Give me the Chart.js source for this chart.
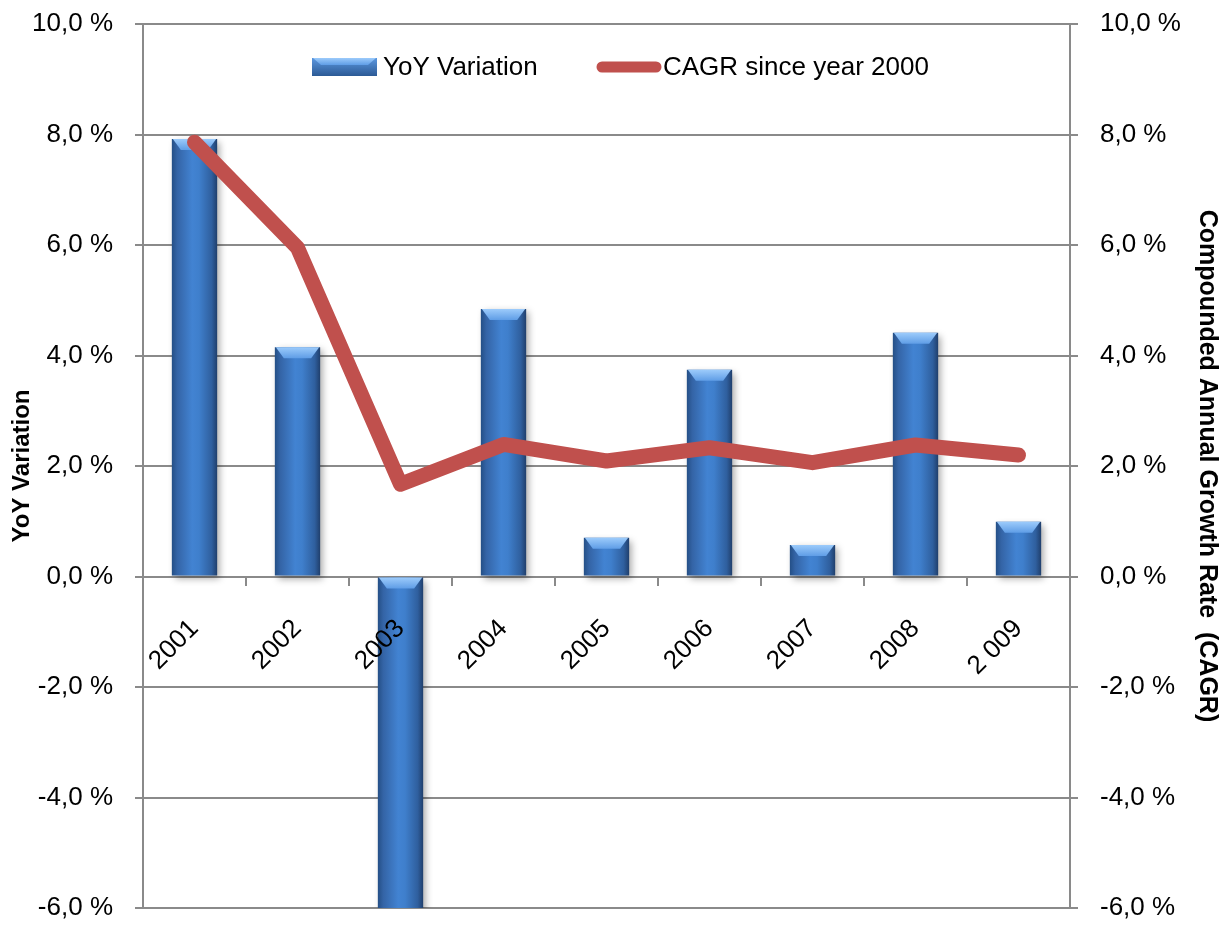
<!DOCTYPE html>
<html><head><meta charset="utf-8">
<script src="https://cdn.jsdelivr.net/npm/chart.js@4"></script>
<style>html,body{margin:0;padding:0;background:#fff}</style>
</head><body>
<canvas id="c" width="1225" height="926"></canvas>
<script>
// ---- data ----
const categories = ['2001', '2002', '2003', '2004', '2005', '2006', '2007', '2008', '2 009'];
const yoyVariation = [7.92, 4.15, -6.4, 4.84, 0.70, 3.74, 0.57, 4.41, 0.99];
const cagrSince2000 = [7.86, 5.95, 1.67, 2.39, 2.09, 2.33, 2.06, 2.38, 2.20];
const axisTicks = [-6, -4, -2, 0, 2, 4, 6, 8, 10];
const seriesLabels = ['YoY Variation', 'CAGR since year 2000'];
const axisTitles = ['YoY Variation', 'Compounded Annual Growth Rate  (CAGR)'];

// ---- style ----
const FONT = "'Liberation Sans', Arial, sans-serif";
const GRID = '#8a8a8a';
const RED = '#C0504D';
const BAR_PCT = 0.44;

const fmt = v => Number(v).toFixed(1).replace('.', ',') + ' %';

function barGradient(c, l, r) {
  const g = c.createLinearGradient(l, 0, r, 0);
  g.addColorStop(0, '#244f86');
  g.addColorStop(0.12, '#3464a6');
  g.addColorStop(0.45, '#4283d2');
  g.addColorStop(0.6, '#3f7fcc');
  g.addColorStop(0.88, '#2f5f9e');
  g.addColorStop(1, '#203f6c');
  return g;
}
function drawBevel(c, l, r, top, maxH) {
  const h = Math.min(11, maxH);
  const inset = Math.min(9, (r - l) / 4);
  const g = c.createLinearGradient(0, top, 0, top + h);
  g.addColorStop(0, '#9ccbfb');
  g.addColorStop(1, '#5f9de6');
  c.beginPath();
  c.moveTo(l + 1, top);
  c.lineTo(r - 1, top);
  c.lineTo(r - inset, top + h);
  c.lineTo(l + inset, top + h);
  c.closePath();
  c.fillStyle = g;
  c.fill();
}

function barFill(ctx) {
  const chart = ctx.chart;
  const xs = chart.scales && chart.scales.x;
  if (!xs || ctx.dataIndex === undefined || !xs.width) return '#4F81BD';
  const cx = xs.getPixelForValue(ctx.dataIndex);
  const w = (xs.width / categories.length) * BAR_PCT;
  return barGradient(chart.ctx, cx - w / 2, cx + w / 2);
}

const barDecor = {
  id: 'barDecor',
  beforeDatasetDraw(chart, args) {
    if (args.index !== 0) return;
    const c = chart.ctx;
    c.save();
    c.shadowColor = 'rgba(0,0,0,0.35)';
    c.shadowBlur = 7;
    c.shadowOffsetX = 3;
    c.shadowOffsetY = 3;
  },
  afterDatasetDraw(chart, args) {
    if (args.index !== 0) return;
    const c = chart.ctx;
    c.restore();
    const a = chart.chartArea;
    c.save();
    c.beginPath();
    c.rect(a.left, a.top, a.right - a.left, a.bottom - a.top);
    c.clip();
    args.meta.data.forEach(el => {
      const p = el.getProps(['x', 'y', 'base', 'width'], true);
      const top = Math.min(p.y, p.base);
      drawBevel(c, p.x - p.width / 2, p.x + p.width / 2, top, Math.abs(p.base - p.y));
    });
    c.restore();
  }
};

const legendBox = {
  id: 'legendBox',
  afterDraw(chart) {
    const c = chart.ctx;
    c.save();
    const l = 312, r = 377, t = 58, b = 76;
    const g = c.createLinearGradient(0, t, 0, b);
    g.addColorStop(0, '#5b97df'); g.addColorStop(1, '#2c5a95');
    c.fillStyle = g;
    c.fillRect(l, t, r - l, b - t);
    drawBevel(c, l, r, t, 7);
    c.fillStyle = '#000';
    c.font = '26px ' + FONT;
    c.textBaseline = 'middle';
    c.textAlign = 'left';
    c.fillText(chart.data.datasets[0].label, 383, 68);
    c.strokeStyle = RED;
    c.lineWidth = 11;
    c.lineCap = 'round';
    c.beginPath(); c.moveTo(602, 67); c.lineTo(656, 67); c.stroke();
    c.fillText(chart.data.datasets[1].label, 663, 68);
    c.restore();
  }
};

const setTicks = s => { s.ticks = axisTicks.map(v => ({ value: v })); };
const noPad = s => { s.paddingTop = 0; s.paddingBottom = 0; s.paddingLeft = 0; s.paddingRight = 0; };

new Chart(document.getElementById('c'), {
  data: {
    labels: categories,
    datasets: [
      {
        type: 'bar', label: seriesLabels[0], data: yoyVariation, yAxisID: 'y',
        backgroundColor: barFill, borderWidth: 0,
        barPercentage: BAR_PCT, categoryPercentage: 1, order: 2
      },
      {
        type: 'line', label: seriesLabels[1], data: cagrSince2000, yAxisID: 'y2',
        borderColor: RED, borderWidth: 15, borderCapStyle: 'round', borderJoinStyle: 'round',
        pointRadius: 0, tension: 0, fill: false, order: 1
      }
    ]
  },
  options: {
    responsive: false,
    animation: false,
    layout: { padding: { top: 24, bottom: 18, left: 0, right: 0 } },
    plugins: { legend: { display: false }, tooltip: { enabled: false } },
    scales: {
      x: {
        position: { y: 0 },
        offset: true,
        afterFit: noPad,
        grid: { offset: true, drawOnChartArea: false, drawTicks: true, tickLength: 8, color: GRID, lineWidth: 2 },
        border: { display: true, color: GRID, width: 2 },
        ticks: { z: 1, autoSkip: false, minRotation: 45, maxRotation: 45, padding: 29, color: '#000', font: { family: FONT, size: 26 } }
      },
      y: {
        position: 'left', min: -6, max: 10,
        afterBuildTicks: setTicks,
        afterFit: s => { noPad(s); s.width = 143; },
        grid: { color: GRID, lineWidth: 2, tickLength: 8 },
        border: { display: true, color: GRID, width: 2 },
        ticks: { callback: fmt, padding: 22, color: '#000', font: { family: FONT, size: 26 } },
        title: { display: true, text: axisTitles[0], color: '#000', padding: { top: 8, bottom: 8 }, font: { family: FONT, size: 24, weight: 'bold' } }
      },
      y2: {
        position: 'right', min: -6, max: 10,
        afterBuildTicks: setTicks,
        afterFit: s => { noPad(s); s.width = 155; },
        grid: { drawOnChartArea: false, color: GRID, lineWidth: 2, tickLength: 8 },
        border: { display: true, color: GRID, width: 2 },
        ticks: { callback: fmt, padding: 22, color: '#000', font: { family: FONT, size: 26 } },
        title: { display: true, text: axisTitles[1], color: '#000', padding: { top: 3, bottom: 3 }, font: { family: FONT, size: 25, weight: 'bold' } }
      }
    }
  },
  plugins: [barDecor, legendBox]
});
</script>
</body></html>
